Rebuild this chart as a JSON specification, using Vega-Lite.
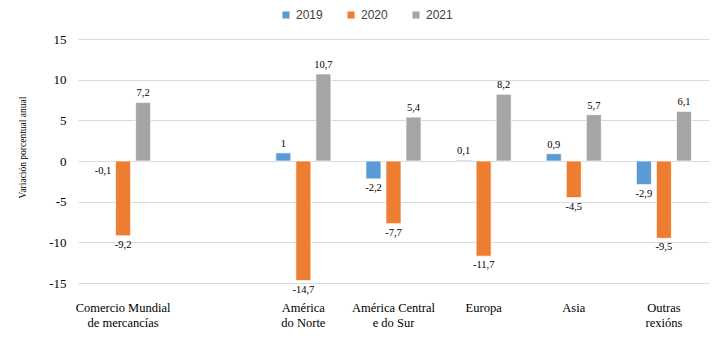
{
  "$schema": "https://vega.github.io/schema/vega-lite/v6.json",
  "autosize": {"type": "none"},
  "padding": {"left": 78, "top": 39, "right": 8, "bottom": 54},
  "width": 631,
  "height": 244,
  "background": "white",
  "data": {
    "values": [
      {"region": "Comercio Mundial de mercancías", "year": "2019", "value": -0.1},
      {"region": "Comercio Mundial de mercancías", "year": "2020", "value": -9.2},
      {"region": "Comercio Mundial de mercancías", "year": "2021", "value": 7.2},
      {"region": "América do Norte", "year": "2019", "value": 1},
      {"region": "América do Norte", "year": "2020", "value": -14.7},
      {"region": "América do Norte", "year": "2021", "value": 10.7},
      {"region": "América Central e do Sur", "year": "2019", "value": -2.2},
      {"region": "América Central e do Sur", "year": "2020", "value": -7.7},
      {"region": "América Central e do Sur", "year": "2021", "value": 5.4},
      {"region": "Europa", "year": "2019", "value": 0.1},
      {"region": "Europa", "year": "2020", "value": -11.7},
      {"region": "Europa", "year": "2021", "value": 8.2},
      {"region": "Asia", "year": "2019", "value": 0.9},
      {"region": "Asia", "year": "2020", "value": -4.5},
      {"region": "Asia", "year": "2021", "value": 5.7},
      {"region": "Outras rexións", "year": "2019", "value": -2.9},
      {"region": "Outras rexións", "year": "2020", "value": -9.5},
      {"region": "Outras rexións", "year": "2021", "value": 6.1}
    ]
  },
  "encoding": {
    "x": {
      "field": "region",
      "type": "nominal",
      "sort": null,
      "scale": {
        "domain": ["Comercio Mundial de mercancías", " ", "América do Norte", "América Central e do Sur", "Europa", "Asia", "Outras rexións"],
        "paddingInner": 0.3333,
        "paddingOuter": 0.1667
      },
      "axis": {
        "title": null,
        "labelAngle": 0,
        "domain": false,
        "ticks": false,
        "grid": false,
        "labelPadding": 18,
        "labelFont": "Liberation Serif",
        "labelFontSize": 12.5,
        "labelColor": "#000000",
        "labelLineHeight": 15,
        "labelExpr": "datum.value == 'Comercio Mundial de mercancías' ? ['Comercio Mundial', 'de mercancías'] : datum.value == 'América do Norte' ? ['América', 'do Norte'] : datum.value == 'América Central e do Sur' ? ['América  Central', 'e do Sur'] : datum.value == 'Outras rexións' ? ['Outras', 'rexións'] : datum.value"
      }
    },
    "xOffset": {
      "field": "year",
      "type": "nominal",
      "scale": {"paddingInner": 0.25, "paddingOuter": 0.125}
    },
    "y": {
      "field": "value",
      "type": "quantitative",
      "scale": {"domain": [-15, 15], "nice": false},
      "axis": {
        "title": "Variación porcentual anual",
        "titleFont": "Liberation Serif",
        "titleFontSize": 9.5,
        "titleFontWeight": "normal",
        "titleColor": "#000000",
        "titleAngle": -90,
        "titleAlign": "center",
        "titleBaseline": "middle",
        "titleX": -56,
        "titleY": 108,
        "values": [-15, -10, -5, 0, 5, 10, 15],
        "domain": false,
        "ticks": false,
        "labelPadding": 12,
        "labelFont": "Liberation Serif",
        "labelFontSize": 13,
        "labelColor": "#000000",
        "gridColor": "#d9d9d9",
        "gridWidth": 1
      }
    }
  },
  "layer": [
    {
      "mark": {"type": "bar", "stroke": "white", "strokeWidth": 0.7},
      "encoding": {
        "color": {
          "field": "year",
          "type": "nominal",
          "scale": {"domain": ["2019", "2020", "2021"], "range": ["#5B9BD5", "#ED7D31", "#A5A5A5"]},
          "legend": {
            "title": null,
            "orient": "none",
            "legendX": 202,
            "legendY": -30,
            "direction": "horizontal",
            "symbolType": "square",
            "symbolSize": 50,
            "symbolStrokeWidth": 0,
            "labelFont": "Liberation Sans",
            "labelFontSize": 12,
            "labelColor": "#404040",
            "labelOffset": 4,
            "columnPadding": 22
          }
        }
      }
    },
    {
      "transform": [{"filter": "datum.value >= 0"}],
      "mark": {"type": "text", "baseline": "bottom", "dy": -4, "font": "Liberation Serif", "fontSize": 10.5, "color": "#000000"},
      "encoding": {"text": {"field": "value", "type": "quantitative", "format": ""}}
    },
    {
      "transform": [{"filter": "datum.value < 0"}],
      "mark": {"type": "text", "baseline": "top", "dy": 4, "font": "Liberation Serif", "fontSize": 10.5, "color": "#000000"},
      "encoding": {"text": {"field": "value", "type": "quantitative", "format": ""}}
    }
  ],
  "config": {
    "view": {"stroke": null},
    "locale": {
      "number": {"decimal": ",", "thousands": ".", "grouping": [3], "currency": ["", " €"], "minus": "-"}
    }
  }
}
